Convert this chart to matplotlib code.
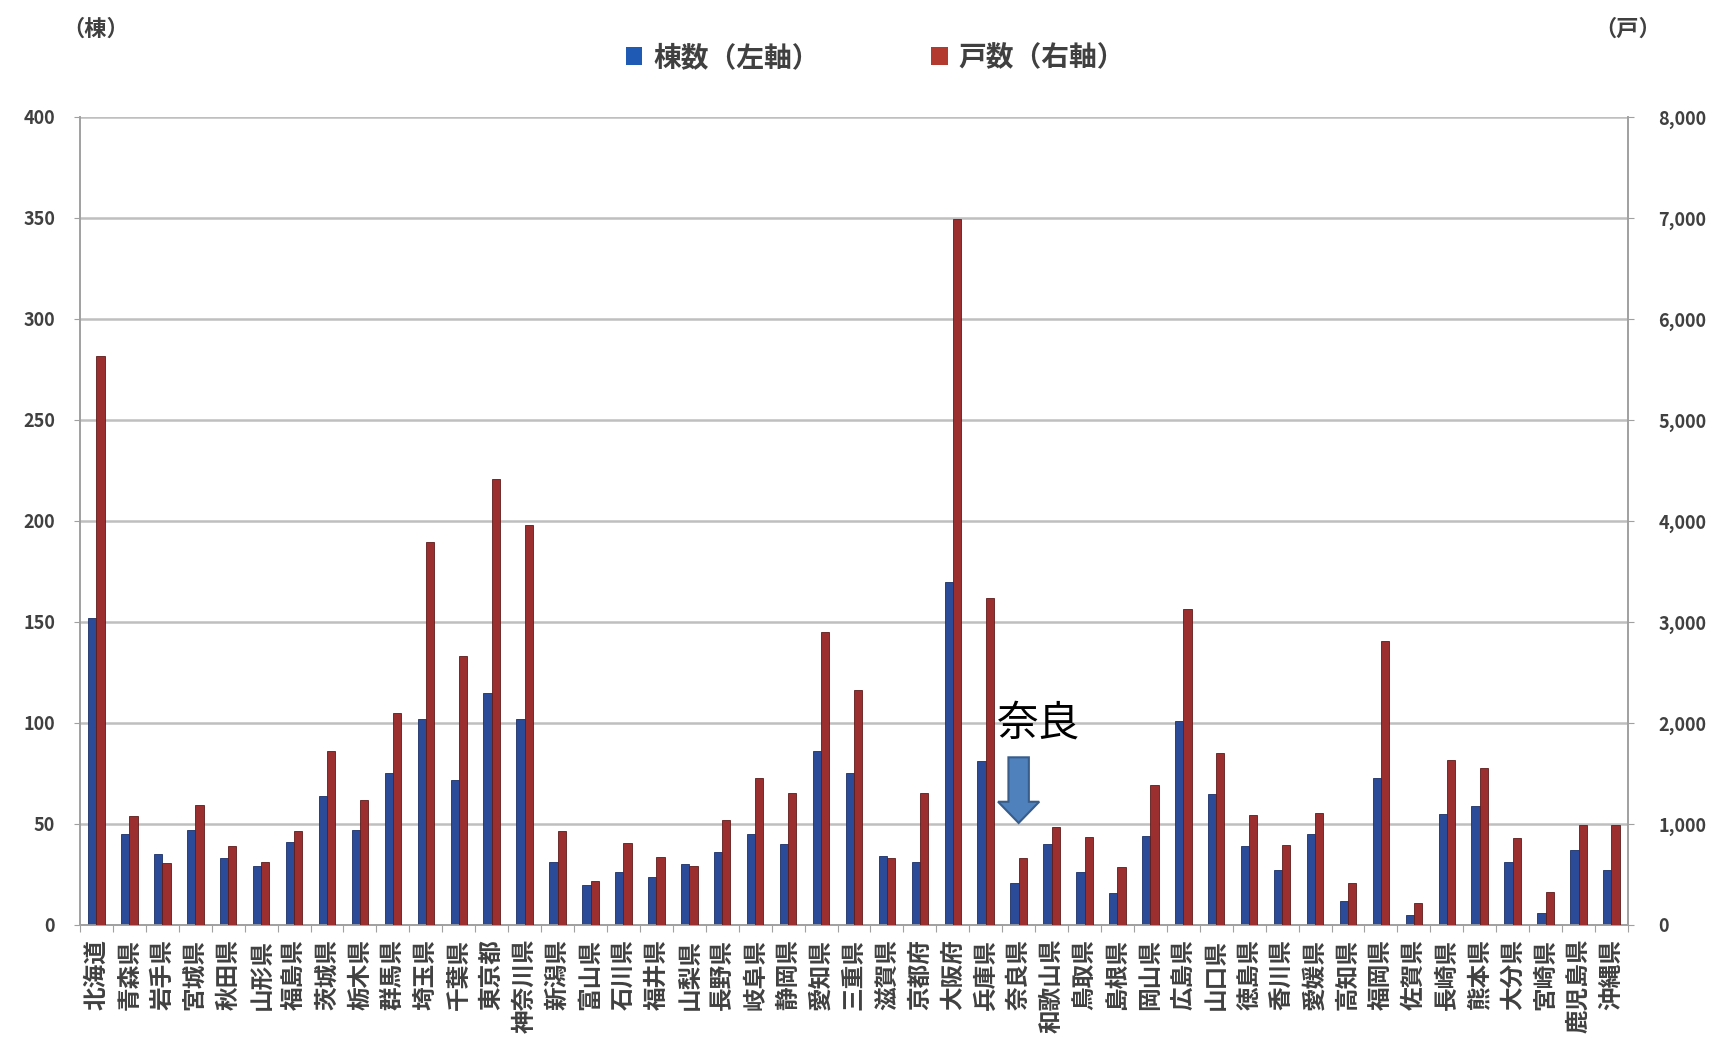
import matplotlib
matplotlib.use("Agg")
import matplotlib.pyplot as plt
from matplotlib.patches import Patch, FancyArrow
from matplotlib.ticker import FuncFormatter, MultipleLocator
import numpy as np

plt.rcParams['font.family'] = ['Noto Sans CJK JP', 'DejaVu Sans']

# =============================================================================
# DATA
# =============================================================================

prefectures = [
    "北海道", "青森県", "岩手県", "宮城県", "秋田県", "山形県", "福島県",
    "茨城県", "栃木県", "群馬県", "埼玉県", "千葉県", "東京都", "神奈川県",
    "新潟県", "富山県", "石川県", "福井県", "山梨県", "長野県", "岐阜県",
    "静岡県", "愛知県", "三重県", "滋賀県", "京都府", "大阪府", "兵庫県",
    "奈良県", "和歌山県", "鳥取県", "島根県", "岡山県", "広島県", "山口県",
    "徳島県", "香川県", "愛媛県", "高知県", "福岡県", "佐賀県", "長崎県",
    "熊本県", "大分県", "宮崎県", "鹿児島県", "沖縄県",
]

# 棟数 (left axis)
buildings = [
    152, 45, 35, 47, 33, 29, 41,
    64, 47, 75, 102, 72, 115, 102,
    31, 20, 26, 24, 30, 36, 45,
    40, 86, 75, 34, 31, 170, 81,
    21, 40, 26, 16, 44, 101, 65,
    39, 27, 45, 12, 73, 5, 55,
    59, 31, 6, 37, 27,
]

# 戸数 (right axis)
units = [
    5630, 1075, 615, 1185, 780, 628, 930,
    1718, 1235, 2095, 3787, 2665, 4420, 3960,
    935, 435, 810, 678, 580, 1040, 1455,
    1306, 2905, 2330, 661, 1306, 6990, 3240,
    661, 975, 876, 579, 1389, 3124, 1703,
    1091, 793, 1107, 413, 2810, 215, 1636,
    1554, 860, 331, 992, 992,
]

highlight_label = "奈良"
highlight_pref = "奈良県"

# =============================================================================
# STYLE
# =============================================================================

BLUE = "#2B4A98"
RED = "#9B2F2F"
GRID = "#bfbfbf"
TEXT = "#404040"
BAR_W = 0.25

fig = plt.figure(figsize=(17.10, 10.51), dpi=100)
ax = fig.add_axes([0.0468, 0.1199, 0.9052, 0.7688])
ax2 = ax.twinx()

x = np.arange(len(prefectures))

ax.bar(x - BAR_W / 2, buildings, width=BAR_W, color=BLUE,
       edgecolor="#1c2f66", linewidth=0.6, zorder=3)
ax2.bar(x + BAR_W / 2, units, width=BAR_W, color=RED,
        edgecolor="#5e1c1c", linewidth=0.6, zorder=3)

# axes ranges / ticks
ax.set_xlim(-0.5, len(prefectures) - 0.5)
ax.set_ylim(0, 400)
ax2.set_ylim(0, 8000)
ax.yaxis.set_major_locator(MultipleLocator(50))
ax2.yaxis.set_major_locator(MultipleLocator(1000))
ax2.yaxis.set_major_formatter(FuncFormatter(lambda v, p: f"{int(v):,}"))

ax.yaxis.grid(True, color=GRID, linewidth=1.8, zorder=0)
ax.set_axisbelow(True)

# category ticks between groups, labels at centres
ax.set_xticks(np.arange(-0.5, len(prefectures), 1.0))
ax.set_xticklabels([])
ax.set_xticks(x, minor=True)
ax.set_xticklabels(prefectures, minor=True, rotation=90, fontsize=17,
                   color=TEXT, fontweight="bold", va="top", ha="center")
ax.tick_params(axis="x", which="minor", length=0, pad=10)
ax.tick_params(axis="x", which="major", length=5, color="#a0a0a0")

ax.tick_params(axis="y", labelsize=13, length=4, pad=14, color="#a0a0a0")
ax2.tick_params(axis="y", labelsize=13, length=4, pad=18, color="#a0a0a0")
for lab in ax.get_yticklabels() + ax2.get_yticklabels():
    lab.set_fontweight("bold")
    lab.set_color(TEXT)

for a in (ax, ax2):
    a.spines["top"].set_visible(False)
    for s in ("left", "right", "bottom"):
        a.spines[s].set_color("#a0a0a0")
        a.spines[s].set_linewidth(1.2)

# unit labels
fig.text(0.056, 0.972, "（棟）", fontsize=16, color=TEXT, fontweight="bold",
         ha="center", va="center")
fig.text(0.952, 0.972, "（戸）", fontsize=16, color=TEXT, fontweight="bold",
         ha="center", va="center")

# legend
handles = [Patch(facecolor="#1f5bb5", edgecolor="none", label="棟数（左軸）"),
           Patch(facecolor="#b23a2e", edgecolor="none", label="戸数（右軸）")]
fig.legend(handles=handles, loc="center", bbox_to_anchor=(0.512, 0.945),
           ncol=2, frameon=False, handlelength=0.6,
           handleheight=0.6, handletextpad=0.4, columnspacing=4.0,
           prop={"size": 20, "weight": "bold"}, labelcolor=TEXT)

# 奈良 annotation with block arrow
i = prefectures.index(highlight_pref)
ax.text(i + 0.6, 99.5, highlight_label, fontsize=30, color="black",
        ha="center", va="center", zorder=6)
arrow = FancyArrow(i, 83, 0, -32.5, width=0.62, head_width=1.25,
                   head_length=10.5, length_includes_head=True,
                   facecolor="#4F81BD", edgecolor="#385D8A", linewidth=1.5,
                   zorder=6)
ax.add_patch(arrow)

fig.savefig("out.png", dpi=100)
